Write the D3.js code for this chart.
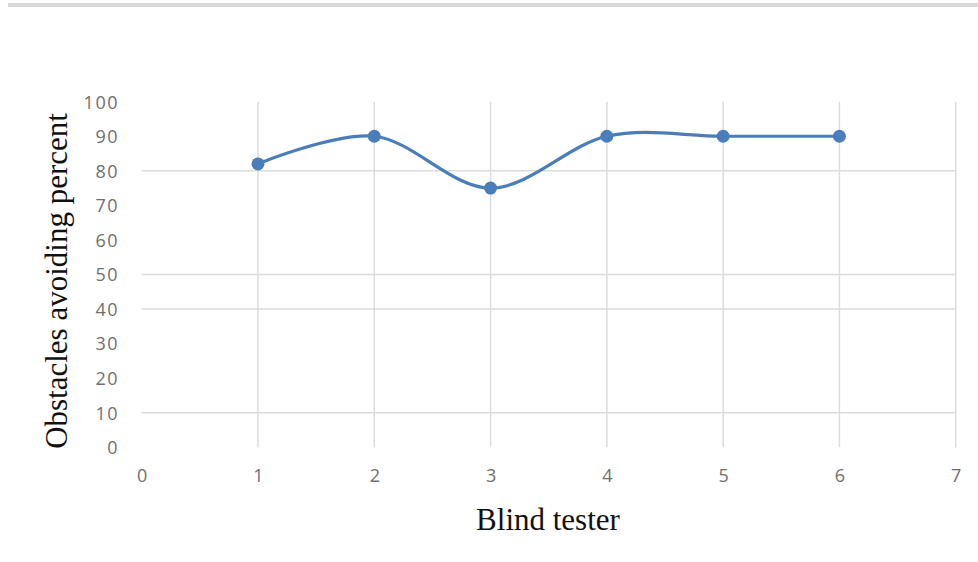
<!DOCTYPE html>
<html>
<head>
<meta charset="utf-8">
<script src="https://cdn.jsdelivr.net/npm/d3@7"></script>
<style>
  html, body { margin: 0; padding: 0; background: #fff; }
  svg { display: block; }
</style>
</head>
<body>
<svg id="chart" width="978" height="562"></svg>
<script>
// Obstacle-avoidance results per blind tester
const testers = [1, 2, 3, 4, 5, 6];
const avoidPercent = [82, 90, 75, 90, 90, 90];
const xTicks = [0, 1, 2, 3, 4, 5, 6, 7];
const yTicks = [0, 10, 20, 30, 40, 50, 60, 70, 80, 90, 100];
const xGridValues = [1, 2, 3, 4, 5, 6, 7];
const yGridValues = [10, 40, 50, 80];
const xTitle = "Blind tester";
const yTitle = "Obstacles avoiding percent";

const svg = d3.select("#chart");
const W = 978, H = 562;
const plot = { left: 141.7, right: 955.7, top: 101.7, bottom: 447.3 };

const x = d3.scaleLinear().domain([0, 7]).range([plot.left, plot.right]);
const y = d3.scaleLinear().domain([0, 100]).range([plot.bottom, plot.top]);

const gridColor = "#dcdcdc";
const lineColor = "#4a7ebb";

// thin rule across the top of the page
svg.append("rect")
  .attr("x", 8).attr("y", 3).attr("width", W - 8).attr("height", 4)
  .attr("fill", "#d9d9d9");

// gridlines
svg.append("g").selectAll("line").data(yGridValues).join("line")
  .attr("x1", plot.left).attr("x2", plot.right)
  .attr("y1", d => y(d)).attr("y2", d => y(d))
  .attr("stroke", gridColor).attr("stroke-width", 1.5);

svg.append("g").selectAll("line").data(xGridValues).join("line")
  .attr("x1", d => x(d)).attr("x2", d => x(d))
  .attr("y1", plot.top).attr("y2", plot.bottom)
  .attr("stroke", gridColor).attr("stroke-width", 1.5);

// y axis labels
const yAxis = d3.axisLeft(y).tickValues(yTicks).tickFormat(d3.format("d")).tickSize(0).tickPadding(0);
const gy = svg.append("g").attr("transform", `translate(119,0)`).call(yAxis);
gy.select(".domain").remove();
gy.selectAll("text")
  .attr("font-family", "'Open Sans', sans-serif")
  .attr("font-size", 18)
  .attr("letter-spacing", 1.5)
  .attr("fill", "#707070")
  .attr("dy", "0.35em");

// x axis labels
const xAxis = d3.axisBottom(x).tickValues(xTicks).tickFormat(d3.format("d")).tickSize(0).tickPadding(0);
const gx = svg.append("g").attr("transform", `translate(0,${plot.bottom + 22})`).call(xAxis);
gx.select(".domain").remove();
gx.selectAll("text")
  .attr("font-family", "'Open Sans', sans-serif")
  .attr("font-size", 18)
  .attr("fill", "#707070")
  .attr("dy", "0.71em");

// axis titles
svg.append("text")
  .attr("x", 548).attr("y", 530)
  .attr("text-anchor", "middle")
  .attr("font-family", "'Liberation Serif', 'Times New Roman', serif")
  .attr("font-size", 31)
  .attr("fill", "#111")
  .text(xTitle);

svg.append("text")
  .attr("transform", "translate(67,281) rotate(-90)")
  .attr("text-anchor", "middle")
  .attr("font-family", "'Liberation Serif', 'Times New Roman', serif")
  .attr("font-size", 31)
  .attr("fill", "#111")
  .text(yTitle);

// smoothed series line
const pts = testers.map((t, i) => [t, avoidPercent[i]]);
const line = d3.line()
  .x(d => x(d[0]))
  .y(d => y(d[1]))
  .curve(d3.curveCardinal.tension(0));

svg.append("path")
  .datum(pts)
  .attr("d", line)
  .attr("fill", "none")
  .attr("stroke", lineColor)
  .attr("stroke-width", 3.2)
  .attr("stroke-linejoin", "round");

svg.append("g").selectAll("circle").data(pts).join("circle")
  .attr("cx", d => x(d[0]))
  .attr("cy", d => y(d[1]))
  .attr("r", 6.5)
  .attr("fill", lineColor);
</script>
</body>
</html>
